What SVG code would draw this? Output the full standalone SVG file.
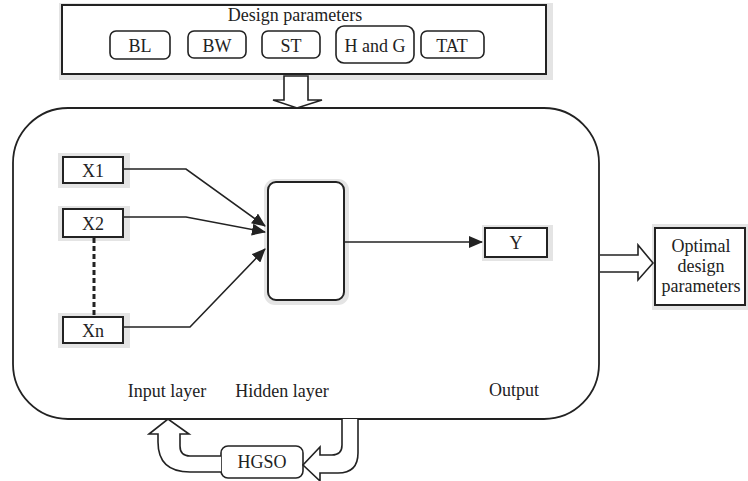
<svg xmlns="http://www.w3.org/2000/svg" width="748" height="481" viewBox="0 0 748 481">
<defs>
<style>
text{font-family:"Liberation Serif","Times New Roman",serif;font-size:18px;fill:#222;text-anchor:middle}
.sh{fill:#e4e4e4;stroke:none}
.bx{fill:#fff;stroke:#222;stroke-width:2}
.pill{fill:#fff;stroke:#222;stroke-width:1.6}
.ln{fill:none;stroke:#222;stroke-width:1.6}
.dash{fill:none;stroke:#222;stroke-width:3;stroke-dasharray:5,3}
.hollow{fill:#fff;stroke:#222;stroke-width:1.6;stroke-linejoin:miter}
</style>
<marker id="ah" markerUnits="userSpaceOnUse" markerWidth="14" markerHeight="12" refX="13" refY="6" orient="auto">
<path d="M0,0 L14,6 L0,12 Z" fill="#222"/>
</marker>
</defs>

<g id="design-parameters">
<rect class="sh" x="59" y="3" width="494" height="77"/>
<rect class="bx" x="62" y="5" width="484" height="69"/>
<text x="295" y="21">Design parameters</text>
<g id="bl"><rect class="pill" x="110" y="31" width="60" height="28" rx="6"/><text x="140" y="52">BL</text></g>
<g id="bw"><rect class="pill" x="188" y="31" width="58" height="27" rx="6"/><text x="217" y="52">BW</text></g>
<g id="st"><rect class="pill" x="262" y="31" width="58" height="27" rx="6"/><text x="291" y="52">ST</text></g>
<g id="hg"><rect class="pill" x="336" y="26" width="78" height="37" rx="8"/><text x="375" y="52">H and G</text></g>
<g id="tat"><rect class="pill" x="421" y="31" width="63" height="27" rx="6"/><text x="452" y="52">TAT</text></g>
</g>

<g id="ann-frame">
<rect x="13" y="108" width="586" height="311" rx="55" ry="55" fill="#fff" stroke="#222" stroke-width="1.8"/>
<text x="167" y="397">Input layer</text>
<text x="282" y="397">Hidden layer</text>
<text x="514" y="396">Output</text>
</g>

<g id="x1"><rect class="sh" x="58" y="153" width="72" height="35"/><rect class="bx" x="63" y="157" width="60" height="26"/><text x="93" y="177">X1</text></g>
<g id="x2"><rect class="sh" x="58" y="206" width="72" height="35"/><rect class="bx" x="63" y="209" width="60" height="28"/><text x="93" y="230">X2</text></g>
<g id="xn"><rect class="sh" x="58" y="313" width="72" height="35"/><rect class="bx" x="63" y="317" width="60" height="26"/><text x="93" y="337">Xn</text></g>

<g id="hidden"><rect class="sh" x="264" y="179" width="85" height="126" rx="11"/><rect class="bx" x="268" y="182" width="76" height="118" rx="8"/></g>

<g id="y"><rect class="sh" x="482" y="225" width="71" height="36"/><rect class="bx" x="485" y="228" width="62" height="29"/><text x="516" y="249">Y</text></g>

<g id="optimal"><rect class="sh" x="652" y="224" width="96" height="86"/><rect class="bx" x="655" y="228" width="90" height="77"/>
<text x="701" y="252">Optimal</text><text x="701" y="272">design</text><text x="701" y="292">parameters</text></g>

<g id="hgso"><rect class="pill" x="221" y="446" width="82" height="32" rx="7"/><text x="262" y="468">HGSO</text></g>

<g id="connectors">
<path class="ln" d="M123,169 L186,169 L265,226" marker-end="url(#ah)"/>
<path class="ln" d="M123,217 L186,217 L265,232" marker-end="url(#ah)"/>
<path class="ln" d="M123,327 L190,327 L265,249" marker-end="url(#ah)"/>
<path class="dash" d="M94,238 L94,317"/>
<path class="ln" d="M344,242 L482,242" marker-end="url(#ah)"/>
<path class="hollow" d="M284,76 L308,76 L308,100 L322,100 L297,108 L273,100 L284,100 Z"/>
<path class="hollow" d="M600,255 L638,255 L638,245 L653,263 L638,280 L638,272 L600,272"/>
<path class="hollow" d="M221,456 L190,456 Q180,456 180,446 L180,434 L189,434 L168,419 L149,434 L158,434 L158,442 Q158,472 190,472 L221,472"/>
<path class="hollow" d="M342,419 L342,445 Q342,455 332,455 L320,455 L320,447 L303,465 L320,481 L320,473 L338,473 Q358,473 358,453 L358,419"/>
</g>
</svg>
